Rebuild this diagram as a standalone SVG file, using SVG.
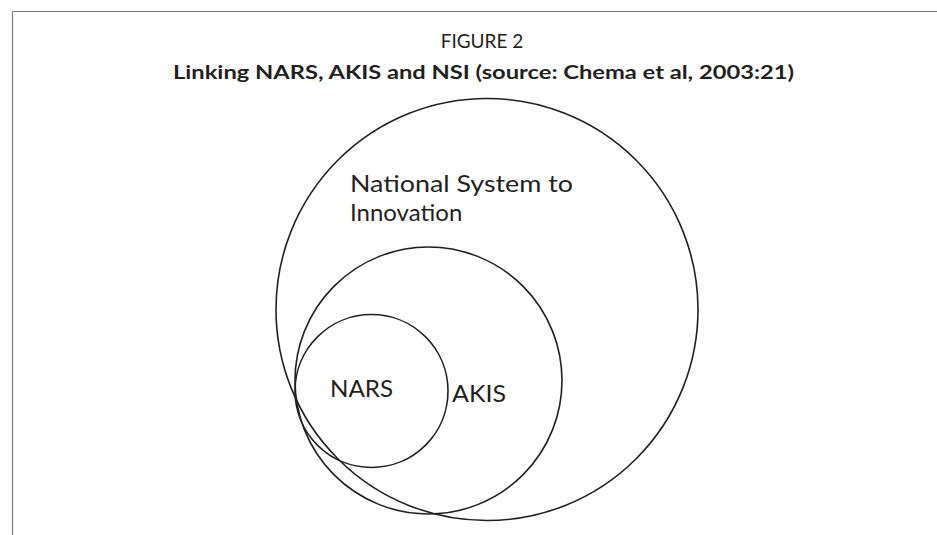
<svg xmlns="http://www.w3.org/2000/svg" width="937" height="535" viewBox="0 0 937 535">
<style>
.frame{stroke:#7a7a7a;stroke-width:1.2;fill:none}
.ring{fill:none;stroke:#231f20;stroke-width:1.6}
.t{font-family:Lato,"Open Sans","Liberation Sans",sans-serif;fill:#231f20}
.title{font-size:19px}
.bold{font-weight:bold}
.lbl{font-size:24px}
</style>
<rect width="937" height="535" fill="#fff"/>
<g id="frame">
<line class="frame" x1="12.5" y1="11.5" x2="937" y2="11.5"/>
<line class="frame" x1="12.5" y1="11.5" x2="12.5" y2="535"/>
</g>
<g id="caption">
<text class="t title" x="482" y="48" text-anchor="middle">FIGURE 2</text>
<text class="t title bold" x="483.5" y="79" text-anchor="middle" textLength="621" lengthAdjust="spacingAndGlyphs">Linking NARS, AKIS and NSI (source: Chema et al, 2003:21)</text>
</g>
<g id="nsi">
<circle class="ring" cx="487" cy="309.5" r="211"/>
<text class="t lbl" x="350" y="191.5" textLength="223" lengthAdjust="spacingAndGlyphs">National System to</text>
<text class="t lbl" x="350" y="220.5">Innovation</text>
</g>
<g id="akis">
<circle class="ring" cx="428.5" cy="380.5" r="133.5"/>
<text class="t lbl" x="452" y="402" textLength="54" lengthAdjust="spacingAndGlyphs">AKIS</text>
</g>
<g id="nars">
<circle class="ring" cx="371.5" cy="391" r="76.5"/>
<text class="t lbl" x="330" y="397" textLength="63" lengthAdjust="spacingAndGlyphs">NARS</text>
</g>
<g id="connectors"></g>
</svg>
